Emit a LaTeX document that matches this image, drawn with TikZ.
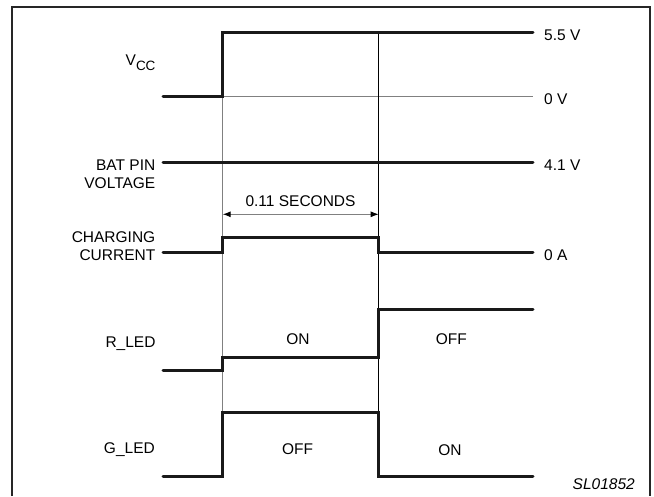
\documentclass[tikz,border=0pt]{standalone}
\usepackage{fontspec}
\setmainfont{Liberation Sans}
\usetikzlibrary{arrows.meta}
\begin{document}
\begin{tikzpicture}[x=1pt,y=-1pt,
  sig/.style={line width=3pt, line cap=round, line join=miter, draw=black!90},
  guide/.style={line width=1pt, draw=black!50},
  guideblack/.style={line width=0.9pt, draw=black},
  lbl/.style={inner sep=0pt, font=\fontsize{15.5}{18.5}\selectfont},
  frame/.style={line width=2pt, draw=black!85}]
\useasboundingbox (0,0) rectangle (654,496);
% frame
\draw[frame] (12.3,496) -- (12.3,6.7) -- (650,6.7) -- (650,496);
% key x positions
\coordinate (L) at (163,0);
\coordinate (A) at (222.7,0);
\coordinate (B) at (378.7,0);
\coordinate (R) at (533,0);
% guides
\draw[guide] (222.7,96) -- (222.7,412.7);
\draw[guide] (222.7,96) -- (533,96);
\draw[guideblack] (378.7,32.3) -- (378.7,412.7);
% 0.11 s dimension
\coordinate (dimA) at (222.7,214.3);
\coordinate (dimB) at (378.7,214.3);
\draw[guide, {Latex[length=8pt,width=6pt,black]}-{Latex[length=8pt,width=6pt,black]}] (dimA) -- (dimB);
\node[lbl, anchor=base] (dimlbl) at (300.5,206.7) {0.11 SECONDS};
% signals
\draw[sig] (163,96) -- (222.7,96) -- (222.7,32.3) -- (533,32.3);
\draw[sig] (163,162) -- (533,162);
\draw[sig] (163,252.7) -- (222.7,252.7) -- (222.7,237.3) -- (378.7,237.3) -- (378.7,252.7) -- (533,252.7);
\draw[sig] (163,370) -- (222.7,370) -- (222.7,357.3) -- (378.7,357.3) -- (378.7,309.3) -- (533,309.3);
\draw[sig] (163,476) -- (222.7,476) -- (222.7,412.7) -- (378.7,412.7) -- (378.7,476) -- (533,476);
% left labels
\node[lbl, anchor=base east] (vcc) at (155.7,65) {V\raisebox{-5pt}{\fontsize{13.5}{13.5}\selectfont CC}};
\node[lbl, anchor=east, align=right] (bat) at (155.5,174) {BAT PIN\\VOLTAGE};
\node[lbl, anchor=east, align=right] (chg) at (155.5,246.3) {CHARGING\\CURRENT};
\node[lbl, anchor=base east] (rled) at (155.7,347) {R\_LED};
\node[lbl, anchor=base east] (gled) at (155,453.3) {G\_LED};
% state labels
\node[lbl, anchor=base] (ron) at (298,344) {ON};
\node[lbl, anchor=base] (goff) at (297.5,454.3) {OFF};
\node[lbl, anchor=base] (roff) at (451.3,344) {OFF};
\node[lbl, anchor=base] (gon) at (450,455) {ON};
% right labels
\node[lbl, anchor=base west] (v55) at (544,40) {5.5 V};
\node[lbl, anchor=base west] (v0) at (544,104) {0 V};
\node[lbl, anchor=base west] (v41) at (544,170) {4.1 V};
\node[lbl, anchor=base west] (a0) at (544,260) {0 A};
\node[lbl, anchor=base east, font=\fontsize{15.5}{18.5}\selectfont\itshape] (code) at (635,489.5) {SL01852};
\end{tikzpicture}
\end{document}
